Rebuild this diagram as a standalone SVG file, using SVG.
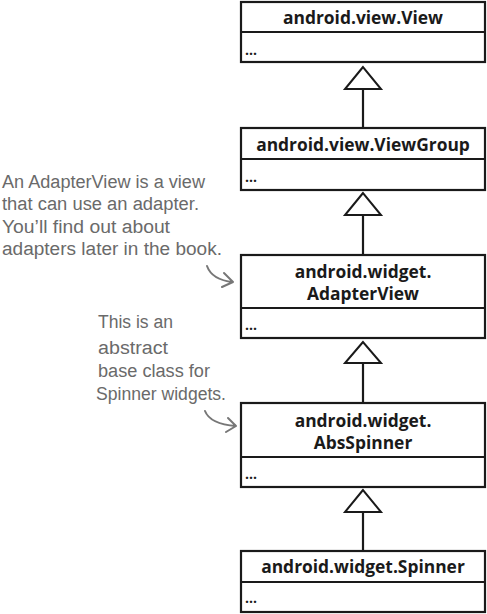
<svg xmlns="http://www.w3.org/2000/svg" width="487" height="614" viewBox="0 0 487 614">
<style>
.box{fill:#fff;stroke:#1a1a1a;stroke-width:2.2}
.div{stroke:#1a1a1a;stroke-width:2.2}
.title{font-family:"Open Sans","Liberation Sans",sans-serif;font-weight:bold;font-size:17.4px;fill:#1a1a1a;text-anchor:middle}
.dots{font-family:"Open Sans","Liberation Sans",sans-serif;font-weight:bold;font-size:14px;fill:#1a1a1a}
.note{font-family:"Liberation Sans",sans-serif;font-size:18px;fill:#6a6a6a}
.conn{stroke:#1a1a1a;stroke-width:2.2;fill:none}
.tri{fill:#fff;stroke:#1a1a1a;stroke-width:2}
.arr{stroke:#777;stroke-width:2;fill:none;stroke-linecap:round;stroke-linejoin:round}
</style>
<g id="connectors">
<line class="conn" x1="363" y1="89" x2="363" y2="128"/>
<polygon class="tri" points="363,67 345,89 381,89"/>
<line class="conn" x1="363" y1="215" x2="363" y2="255"/>
<polygon class="tri" points="363,193 345,215 381,215"/>
<line class="conn" x1="363" y1="363" x2="363" y2="403"/>
<polygon class="tri" points="363,342 345,363 381,363"/>
<line class="conn" x1="363" y1="512" x2="363" y2="551"/>
<polygon class="tri" points="363,490 345,512 381,512"/>
</g>
<g id="view">
<rect class="box" x="241" y="2" width="244" height="60"/>
<line class="div" x1="241" y1="32" x2="485" y2="32"/>
<text class="title" x="363" y="24">android.view.View</text>
<text class="dots" x="245" y="55">...</text>
</g>
<g id="viewgroup">
<rect class="box" x="241" y="128" width="244" height="62"/>
<line class="div" x1="241" y1="159" x2="485" y2="159"/>
<text class="title" x="363" y="151">android.view.ViewGroup</text>
<text class="dots" x="245" y="182">...</text>
</g>
<g id="adapterview">
<rect class="box" x="241" y="255" width="244" height="83"/>
<line class="div" x1="241" y1="308" x2="485" y2="308"/>
<text class="title" x="363" y="278">android.widget.</text>
<text class="title" x="363" y="300">AdapterView</text>
<text class="dots" x="245" y="330">...</text>
</g>
<g id="absspinner">
<rect class="box" x="241" y="403" width="244" height="84"/>
<line class="div" x1="241" y1="457" x2="485" y2="457"/>
<text class="title" x="363" y="427">android.widget.</text>
<text class="title" x="363" y="449">AbsSpinner</text>
<text class="dots" x="245" y="479">...</text>
</g>
<g id="spinner">
<rect class="box" x="241" y="551" width="244" height="61"/>
<line class="div" x1="241" y1="582" x2="485" y2="582"/>
<text class="title" x="363" y="573">android.widget.Spinner</text>
<text class="dots" x="245" y="603">...</text>
</g>
<g id="note-adapterview">
<text class="note" x="2" y="188" textLength="203" lengthAdjust="spacingAndGlyphs">An AdapterView is a view</text>
<text class="note" x="2" y="210" textLength="197" lengthAdjust="spacingAndGlyphs">that can use an adapter.</text>
<text class="note" x="2" y="233" textLength="168" lengthAdjust="spacingAndGlyphs">You’ll find out about</text>
<text class="note" x="2" y="255" textLength="220" lengthAdjust="spacingAndGlyphs">adapters later in the book.</text>
<path class="arr" d="M207,266 Q212,280 233,282 M224,273 L233,282 L222,287"/>
</g>
<g id="note-absspinner">
<text class="note" x="98" y="328" textLength="75" lengthAdjust="spacingAndGlyphs">This is an</text>
<text class="note" x="98" y="354" textLength="70" lengthAdjust="spacingAndGlyphs">abstract</text>
<text class="note" x="98" y="377" textLength="112" lengthAdjust="spacingAndGlyphs">base class for</text>
<text class="note" x="96" y="400" textLength="130" lengthAdjust="spacingAndGlyphs">Spinner widgets.</text>
<path class="arr" d="M205,411 Q210,424 236,426 M228,418 L236,426 L226,432"/>
</g>
</svg>
